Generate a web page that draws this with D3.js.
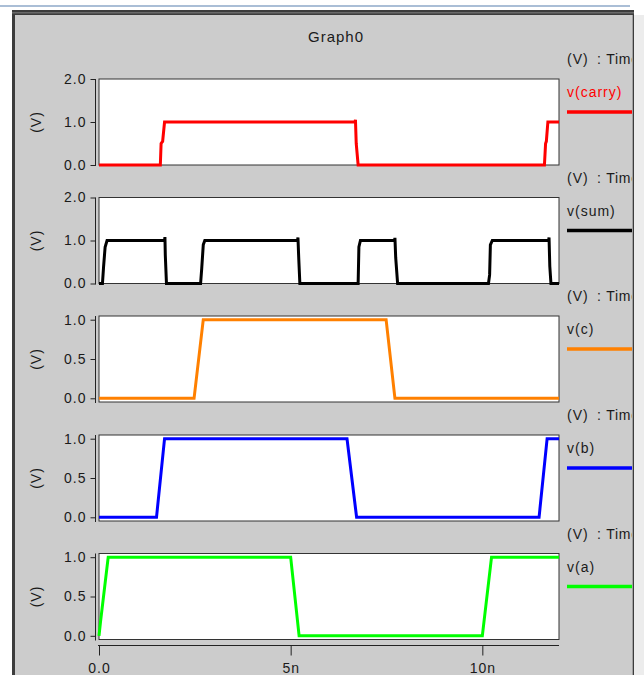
<!DOCTYPE html>
<html>
<head>
<meta charset="utf-8">
<script src="https://cdn.jsdelivr.net/npm/d3@7"></script>
<style>
  html, body { margin: 0; padding: 0; background: #ffffff; }
  svg { display: block; }
  text { font-family: "Liberation Sans", Arial, sans-serif; fill: #1a1a1a; }
</style>
</head>
<body>
<svg id="chart" width="644" height="675"></svg>
<script>
// ---- data (time in ns, voltage in V) ----
const title = "Graph0";
const seriesNames = ["v(carry)", "v(sum)", "v(c)", "v(b)", "v(a)"];
const seriesColors = ["#ff0000", "#000000", "#ff8000", "#0000ff", "#00ff00"];
const unitLabelA = "(V) ";
const unitLabelB = ": Time (s)";
const yLabel = "(V)";
const xTickValues = [0, 5, 10];
const xTickLabels = ["0.0", "5n", "10n"];
const yTicksWide = [0, 1, 2];
const yTicksUnit = [0, 0.5, 1];

const carry = [[0,0],[1.60,0],[1.62,0.5],[1.66,0.55],[1.71,1],[6.68,1],[6.69,1.05],[6.71,0.5],[6.76,0],[11.62,0],[11.65,0.5],[11.67,0.55],[11.71,1],[12,1]];
const sum = [[0,0],[0.09,0],[0.12,0.4],[0.16,0.85],[0.21,1],[1.71,1],[1.72,1.08],[1.73,0.65],[1.76,0],[2.65,0],[2.68,0.35],[2.72,0.9],[2.76,1],[5.18,1],[5.19,1.07],[5.21,0.6],[5.24,0],[6.76,0],[6.78,0.85],[6.82,1],[7.71,1],[7.72,1.06],[7.74,0.6],[7.79,0],[10.16,0],[10.19,0.2],[10.21,0.9],[10.26,1],[11.73,1],[11.74,1.07],[11.76,0.4],[11.79,0],[12,0]];
const vc = [[0,0],[2.48,0],[2.72,1],[7.49,1],[7.72,0],[12,0]];
const vb = [[0,0],[1.50,0],[1.71,1],[6.47,1],[6.72,0],[11.48,0],[11.69,1],[12,1]];
const va = [[0,0],[0.04,0.18],[0.24,1],[5.00,1],[5.22,0],[10.00,0],[10.24,1],[12,1]];

const seriesData = [carry, sum, vc, vb, va];
const yDomains = [[0,2],[0,2],[-0.047,1.047],[-0.047,1.047],[-0.047,1.047]];
const yTickSets = [yTicksWide, yTicksWide, yTicksUnit, yTicksUnit, yTicksUnit];

// ---- layout ----
const svg = d3.select("#chart");
const plotLeft = 99, plotRight = 559, plotH = 86;
const plotTops = [79, 197.5, 316, 435, 553.5];
const panelRight = 632;

// window frame
svg.append("rect").attr("x",0).attr("y",0).attr("width",644).attr("height",675).attr("fill","#ffffff");
svg.append("rect").attr("x",0).attr("y",5).attr("width",630).attr("height",2).attr("fill","#aabed6");
svg.append("rect").attr("x",12).attr("y",10).attr("width",panelRight-12+2).attr("height",665).attr("fill","#3c3c3c");
svg.append("rect").attr("x",15).attr("y",15).attr("width",panelRight-15).attr("height",660).attr("fill","#cccccc");
svg.append("rect").attr("x",12).attr("y",12).attr("width",panelRight-12+2).attr("height",1.5).attr("fill","#6a6a6a");
svg.append("rect").attr("x",panelRight+2).attr("y",15).attr("width",644-panelRight-2).attr("height",660).attr("fill","#ececec");
svg.append("rect").attr("x",panelRight).attr("y",15).attr("width",1).attr("height",660).attr("fill","#a0a0a0");

svg.append("defs").append("clipPath").attr("id","panelClip")
  .append("rect").attr("x",15).attr("y",15).attr("width",panelRight-15).attr("height",660);

const root = svg.append("g").attr("clip-path","url(#panelClip)");

root.append("text").attr("x",336).attr("y",42).attr("text-anchor","middle")
  .attr("font-size",15).attr("letter-spacing","1px").text(title);

const x = d3.scaleLinear().domain([0,12]).range([plotLeft, plotRight]);

seriesData.forEach((data, i) => {
  const top = plotTops[i];
  const y = d3.scaleLinear().domain(yDomains[i]).range([top + plotH, top]);
  const g = root.append("g");

  // plot box
  g.append("rect").attr("x",plotLeft).attr("y",top).attr("width",plotRight-plotLeft).attr("height",plotH)
    .attr("fill","#ffffff").attr("stroke","#333333").attr("stroke-width",1);

  // y axis (offset left of the box)
  const yAxis = d3.axisLeft(y).tickValues(yTickSets[i]).tickFormat(d3.format(".1f")).tickSize(5).tickPadding(4);
  const ya = g.append("g").attr("transform",`translate(95.5,0)`).call(yAxis);
  ya.select(".domain").attr("d", `M0,${top}V${top+plotH+1}`).attr("stroke","#222");
  ya.selectAll(".tick line").attr("stroke","#222");
  ya.selectAll(".tick text").attr("font-size",14).attr("letter-spacing","1px")
    .attr("font-family","'Liberation Sans', Arial, sans-serif").attr("fill","#1a1a1a");

  // y label
  g.append("text").attr("transform",`translate(41,${top+plotH/2}) rotate(-90)`)
    .attr("text-anchor","middle").attr("font-size",14).attr("letter-spacing","1px").text(yLabel);

  // waveform
  const line = d3.line().x(d => x(d[0])).y(d => y(d[1]));
  g.append("path").datum(data).attr("d", line).attr("fill","none")
    .attr("stroke", seriesColors[i]).attr("stroke-width",3).attr("stroke-linejoin","miter");

  // legend
  const ut = g.append("text").attr("y",top-15).attr("font-size",14);
  ut.append("tspan").attr("x",567).attr("letter-spacing","1px").text(unitLabelA);
  ut.append("tspan").attr("x",597).attr("letter-spacing","0.8px").text(unitLabelB);
  g.append("text").attr("x",567).attr("y",top+18).attr("font-size",14).attr("letter-spacing","1px")
    .style("fill", i === 0 ? "#ff0000" : "#1a1a1a")
    .text(seriesNames[i]);
  g.append("line").attr("x1",567).attr("x2",panelRight).attr("y1",top+33).attr("y2",top+33)
    .attr("stroke", seriesColors[i]).attr("stroke-width",3.5);
});

// x axis
const xAxis = d3.axisBottom(x).tickValues(xTickValues).tickFormat((d,i) => xTickLabels[i]).tickSize(10).tickPadding(8);
const xa = root.append("g").attr("transform","translate(0,645.5)").call(xAxis);
xa.select(".domain").attr("d", `M${plotLeft-1},0H${plotRight}`).attr("stroke","#222");
xa.selectAll(".tick line").attr("stroke","#222");
xa.selectAll(".tick text").attr("font-size",14).attr("letter-spacing","1px")
  .attr("font-family","'Liberation Sans', Arial, sans-serif").attr("fill","#1a1a1a");
</script>
</body>
</html>
